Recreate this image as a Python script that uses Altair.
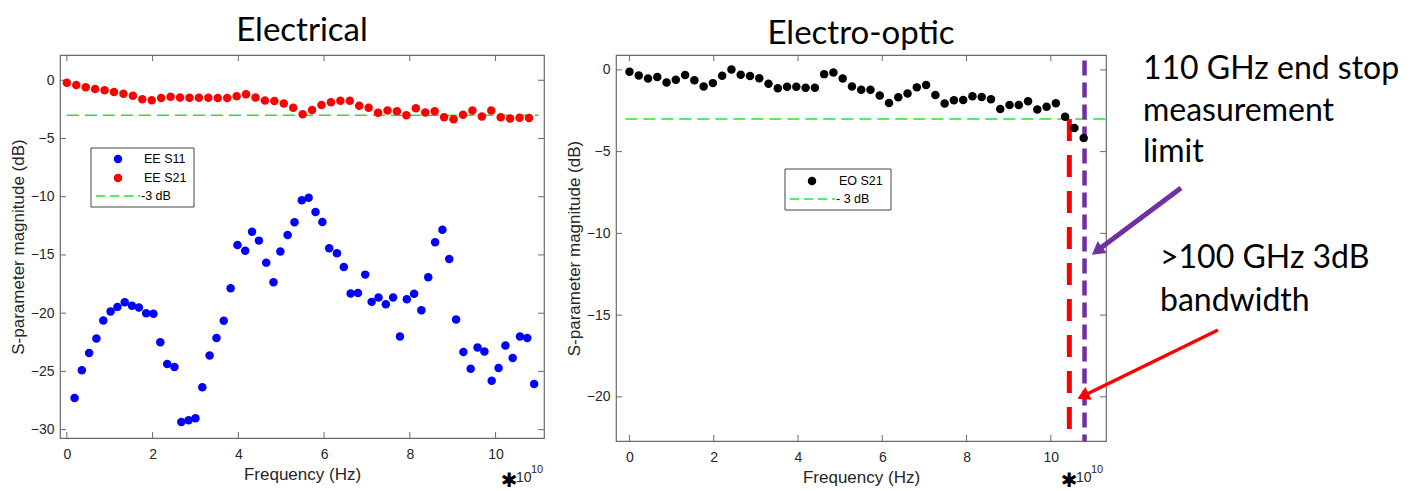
import altair as alt
import pandas as pd

# ---------------- data (frequency in units of 1e10 Hz, magnitude in dB) ----------------
ee_s21_freq = [0.00, 0.22, 0.44, 0.66, 0.88, 1.10, 1.32, 1.54, 1.76, 1.98,
               2.20, 2.42, 2.64, 2.86, 3.08, 3.30, 3.52, 3.74, 3.96, 4.18,
               4.40, 4.62, 4.84, 5.06, 5.28, 5.50, 5.72, 5.94, 6.16, 6.38,
               6.60, 6.82, 7.04, 7.26, 7.48, 7.70, 7.92, 8.14, 8.36, 8.58,
               8.80, 9.02, 9.24, 9.46, 9.68, 9.90, 10.12, 10.34, 10.56, 10.78]
ee_s21_db = [-0.21, -0.41, -0.59, -0.74, -0.85, -1.00, -1.15, -1.32, -1.62, -1.71,
             -1.53, -1.41, -1.47, -1.50, -1.50, -1.50, -1.53, -1.53, -1.38, -1.21,
             -1.47, -1.74, -1.79, -2.00, -2.35, -2.91, -2.56, -2.12, -1.88, -1.76,
             -1.76, -2.18, -2.35, -2.79, -2.59, -2.65, -3.00, -2.41, -2.76, -2.65,
             -3.18, -3.35, -2.97, -2.59, -3.12, -2.59, -3.18, -3.29, -3.21, -3.24]

ee_s11_freq = [0.18, 0.35, 0.52, 0.69, 0.85, 1.02, 1.18, 1.35, 1.52, 1.68,
               1.85, 2.02, 2.18, 2.34, 2.51, 2.67, 2.84, 3.00, 3.16, 3.33,
               3.49, 3.66, 3.82, 3.98, 4.16, 4.32, 4.48, 4.65, 4.82, 4.98,
               5.15, 5.31, 5.48, 5.64, 5.80, 5.96, 6.12, 6.30, 6.46, 6.62,
               6.79, 6.96, 7.11, 7.27, 7.44, 7.61, 7.77, 7.93, 8.10, 8.27,
               8.43, 8.59, 8.76, 8.92, 9.08, 9.25, 9.42, 9.58, 9.74, 9.91,
               10.07, 10.23, 10.40, 10.57, 10.74, 10.90]
ee_s11_db = [-27.29, -24.91, -23.43, -22.17, -20.63, -19.86, -19.46, -19.06, -19.37, -19.51,
             -20.00, -20.06, -22.49, -24.37, -24.63, -29.34, -29.20, -29.03, -26.37, -23.63,
             -22.14, -20.66, -17.86, -14.14, -14.63, -13.00, -13.77, -15.66, -17.34, -14.71,
             -13.29, -12.20, -10.31, -10.09, -11.31, -12.17, -14.43, -14.86, -16.03, -18.31,
             -18.26, -16.69, -19.03, -18.66, -19.23, -18.66, -22.00, -18.80, -18.34, -19.74,
             -16.91, -13.91, -12.83, -15.34, -20.54, -23.34, -24.77, -22.94, -23.29, -25.80,
             -24.71, -22.77, -23.86, -22.00, -22.14, -26.09]

eo_s21_freq = [0.00, 0.22, 0.44, 0.66, 0.88, 1.10, 1.32, 1.54, 1.76, 1.98,
               2.20, 2.42, 2.64, 2.86, 3.08, 3.30, 3.52, 3.74, 3.96, 4.18,
               4.40, 4.62, 4.84, 5.06, 5.28, 5.50, 5.72, 5.94, 6.16, 6.38,
               6.60, 6.82, 7.04, 7.26, 7.48, 7.70, 7.92, 8.14, 8.36, 8.58,
               8.80, 9.02, 9.24, 9.46, 9.68, 9.90, 10.12, 10.34, 10.56, 10.78]
eo_s21_db = [-0.12, -0.34, -0.53, -0.43, -0.77, -0.61, -0.32, -0.63, -1.01, -0.81,
             -0.36, 0.02, -0.30, -0.38, -0.51, -0.85, -1.13, -1.03, -1.03, -1.09,
             -1.09, -0.26, -0.16, -0.53, -1.01, -1.21, -1.21, -1.56, -2.02, -1.68,
             -1.44, -1.07, -0.93, -1.54, -2.06, -1.86, -1.84, -1.62, -1.66, -1.80,
             -2.39, -2.15, -2.15, -1.92, -2.43, -2.25, -2.04, -2.87, -3.56, -4.17]

threshold_db = [-3, -3]
left_ref_span = [0.0, 11.0]
right_ref_span = [-0.1, 11.31]
bw_3db_freq = [10.44]
end_stop_freq = [10.8]
end_stop_top_db = [0.57]

x_ticks = [0, 2, 4, 6, 8, 10]
left_y_ticks = [0, -5, -10, -15, -20, -25, -30]
right_y_ticks = [0, -5, -10, -15, -20]
left_x_domain = [-0.16, 11.13]
left_y_domain = [-30.72, 2.17]
right_x_domain = [-0.32, 11.31]
right_y_domain = [-22.7, 0.91]

panel_titles = ["Electrical", "Electro-optic"]
left_legend = ["EE S11", "EE S21", "-3 dB"]
right_legend = ["EO S21", "- 3 dB"]
note_end_stop = ["110 GHz end stop", "measurement", "limit"]
note_bw = [">100 GHz 3dB", "bandwidth"]
axis_x_title = "Frequency (Hz)"
axis_y_title = "S-parameter magnitude (dB)"
multiplier = ["\u2731", "10", "10"]

# ---------------- styling ----------------
FONT = "Liberation Sans"
TFONT = "Lato"
TXT = "#262626"
FRAME = "#6a6a6a"
GREEN = "#22e622"
BLUE = "#0000ff"
RED = "#ff0000"
PURPLE = "#7030a0"
LW, LH = 484, 383
RW, RH = 490, 386


def one():
    return pd.DataFrame({"k": [0]})


X_AXIS = alt.Axis(values=x_ticks, title=axis_x_title, ticks=False, tickSize=0, domain=False,
                  grid=False, labelFont=FONT, labelFontSize=14, labelColor=TXT, labelPadding=9,
                  titleFont=FONT, titleFontSize=17, titleFontWeight="normal", titleColor=TXT,
                  titlePadding=5)


def y_axis(vals):
    return alt.Axis(values=vals, title=axis_y_title, ticks=False, tickSize=0, domain=False,
                    grid=False, labelFont=FONT, labelFontSize=14, labelColor=TXT, labelPadding=6,
                    titleFont=FONT, titleFontSize=17, titleFontWeight="normal", titleColor=TXT,
                    titlePadding=3)


def inward_ticks(xs, ys, ya, yt, W, H):
    dx = pd.DataFrame({"f": x_ticks})
    dy = pd.DataFrame({"v": yt})
    L = 6
    layers = []
    for y0, y1 in [(H, H - L), (0, L)]:
        layers.append(alt.Chart(dx).mark_rule(color=FRAME, strokeWidth=1).encode(
            x=alt.X("f:Q", scale=xs, axis=X_AXIS), y=alt.value(y0), y2=alt.value(y1)))
    for x0, x1 in [(0, L), (W, W - L)]:
        layers.append(alt.Chart(dy).mark_rule(color=FRAME, strokeWidth=1).encode(
            y=alt.Y("v:Q", scale=ys, axis=ya), x=alt.value(x0), x2=alt.value(x1)))
    return layers


def mult_label(px, py):
    return [
        alt.Chart(one()).mark_text(text=multiplier[0], font="DejaVu Sans", fontSize=20,
                                   fontWeight="bold", color="black", align="center",
                                   baseline="middle").encode(x=alt.value(px), y=alt.value(py + 3)),
        alt.Chart(one()).mark_text(text=multiplier[1], font=FONT, fontSize=14, color=TXT,
                                   align="left", baseline="middle").encode(
            x=alt.value(px + 7), y=alt.value(py)),
        alt.Chart(one()).mark_text(text=multiplier[2], font=FONT, fontSize=11, color=TXT,
                                   align="left", baseline="middle").encode(
            x=alt.value(px + 22), y=alt.value(py - 8)),
    ]


def legend_text(txt, px, py):
    return alt.Chart(one()).mark_text(text=txt, font=FONT, fontSize=12.5, color="black",
                                      align="left", baseline="middle").encode(
        x=alt.value(px), y=alt.value(py))


# ---------------- left panel ----------------
lxs = alt.Scale(domain=left_x_domain, nice=False, zero=False)
lys = alt.Scale(domain=left_y_domain, nice=False, zero=False)
LYA = y_axis(left_y_ticks)


def lenc(ch):
    return ch.encode(x=alt.X("f:Q", scale=lxs, axis=X_AXIS), y=alt.Y("v:Q", scale=lys, axis=LYA))


df_s21 = pd.DataFrame({"f": ee_s21_freq, "v": ee_s21_db})
df_s11 = pd.DataFrame({"f": ee_s11_freq, "v": ee_s11_db})
df_lref = pd.DataFrame({"f": left_ref_span, "v": threshold_db})

l_green = lenc(alt.Chart(df_lref).mark_line(color=GREEN, strokeWidth=1.4, strokeDash=[12, 6]))
l_red = lenc(alt.Chart(df_s21).mark_circle(color=RED, size=72, opacity=1))
l_blue = lenc(alt.Chart(df_s11).mark_circle(color=BLUE, size=72, opacity=1))

l_leg = [
    alt.Chart(one()).mark_rect(fill="white", stroke="#444444", strokeWidth=1).encode(
        x=alt.value(31), x2=alt.value(134), y=alt.value(93), y2=alt.value(152)),
    alt.Chart(one()).mark_circle(color=BLUE, size=72, opacity=1).encode(
        x=alt.value(58), y=alt.value(104)),
    alt.Chart(one()).mark_circle(color=RED, size=72, opacity=1).encode(
        x=alt.value(58), y=alt.value(123)),
    alt.Chart(one()).mark_rule(color=GREEN, strokeWidth=1.4, strokeDash=[9, 5]).encode(
        x=alt.value(36), x2=alt.value(80), y=alt.value(141)),
    legend_text(left_legend[0], 84, 104),
    legend_text(left_legend[1], 84, 123),
    legend_text(left_legend[2], 81, 141),
]

left = alt.layer(
    l_green, *inward_ticks(lxs, lys, LYA, left_y_ticks, LW, LH), l_red, l_blue, *l_leg,
    *mult_label(449, 423)
).properties(
    width=LW, height=LH,
    title=alt.TitleParams(panel_titles[0], font=TFONT, fontSize=33, fontWeight="normal",
                          color="black", anchor="middle", offset=7))

# ---------------- right panel ----------------
rxs = alt.Scale(domain=right_x_domain, nice=False, zero=False)
rys = alt.Scale(domain=right_y_domain, nice=False, zero=False)
RYA = y_axis(right_y_ticks)

df_eo = pd.DataFrame({"f": eo_s21_freq, "v": eo_s21_db})
df_rref = pd.DataFrame({"f": right_ref_span, "v": threshold_db})
df_bw = pd.DataFrame({"f": bw_3db_freq, "v": [threshold_db[0]], "v2": [right_y_domain[0]]})
df_es = pd.DataFrame({"f": end_stop_freq, "v": end_stop_top_db, "v2": [right_y_domain[0]]})


def renc(ch, **kw):
    return ch.encode(x=alt.X("f:Q", scale=rxs, axis=X_AXIS), y=alt.Y("v:Q", scale=rys, axis=RYA), **kw)


r_green = renc(alt.Chart(df_rref).mark_line(color=GREEN, strokeWidth=1.4, strokeDash=[12, 6]))
r_bw = renc(alt.Chart(df_bw).mark_rule(color=RED, strokeWidth=5, strokeDash=[22, 14]), y2="v2:Q")
r_es = renc(alt.Chart(df_es).mark_rule(color=PURPLE, strokeWidth=4.5, strokeDash=[15, 7]), y2="v2:Q")
r_pts = renc(alt.Chart(df_eo).mark_circle(color="black", size=72, opacity=1))

r_leg = [
    alt.Chart(one()).mark_rect(fill="white", stroke="#444444", strokeWidth=1).encode(
        x=alt.value(169), x2=alt.value(275), y=alt.value(114), y2=alt.value(155)),
    alt.Chart(one()).mark_circle(color="black", size=72, opacity=1).encode(
        x=alt.value(196), y=alt.value(126)),
    alt.Chart(one()).mark_rule(color=GREEN, strokeWidth=1.4, strokeDash=[9, 5]).encode(
        x=alt.value(174), x2=alt.value(219), y=alt.value(144)),
    legend_text(right_legend[0], 223, 126),
    legend_text(right_legend[1], 220, 144),
]


def note(txt, px, py):
    return alt.Chart(one()).mark_text(text=txt, font=TFONT, fontSize=32, color="black",
                                      align="left", baseline="middle").encode(
        x=alt.value(px), y=alt.value(py))


def arrow(x0, y0, x1, y1, hx, hy, ang, color, width, size):
    return [
        alt.Chart(one()).mark_rule(color=color, strokeWidth=width).encode(
            x=alt.value(x0), y=alt.value(y0), x2=alt.value(x1), y2=alt.value(y1)),
        alt.Chart(one()).mark_point(shape="triangle-up", filled=True, color=color, size=size,
                                    opacity=1, angle=ang).encode(x=alt.value(hx), y=alt.value(hy)),
    ]


r_notes = [
    note(note_end_stop[0], 527, 14),
    note(note_end_stop[1], 527, 56),
    note(note_end_stop[2], 527, 97),
    note(note_bw[0], 544, 203),
    note(note_bw[1], 544, 246),
    *arrow(565, 133, 482, 195, 481, 196, 233, PURPLE, 5, 220),
    *arrow(602, 275, 469, 340, 467, 341, 244, RED, 3.5, 200),
]

right = alt.layer(
    r_green, *inward_ticks(rxs, rys, RYA, right_y_ticks, RW, RH), r_bw, r_es, r_pts, *r_leg,
    *r_notes, *mult_label(453, 423)
).properties(
    width=RW, height=RH,
    title=alt.TitleParams(panel_titles[1], font=TFONT, fontSize=33, fontWeight="normal",
                          color="black", anchor="middle", offset=2))

chart = alt.hconcat(left, right, spacing=18).configure(
    padding={"left": 0, "top": 5, "right": 0, "bottom": 4},
    background="white",
).configure_view(stroke=FRAME, strokeWidth=1.2)

chart.save("out.html", embed_options={"renderer": "svg", "actions": False})
